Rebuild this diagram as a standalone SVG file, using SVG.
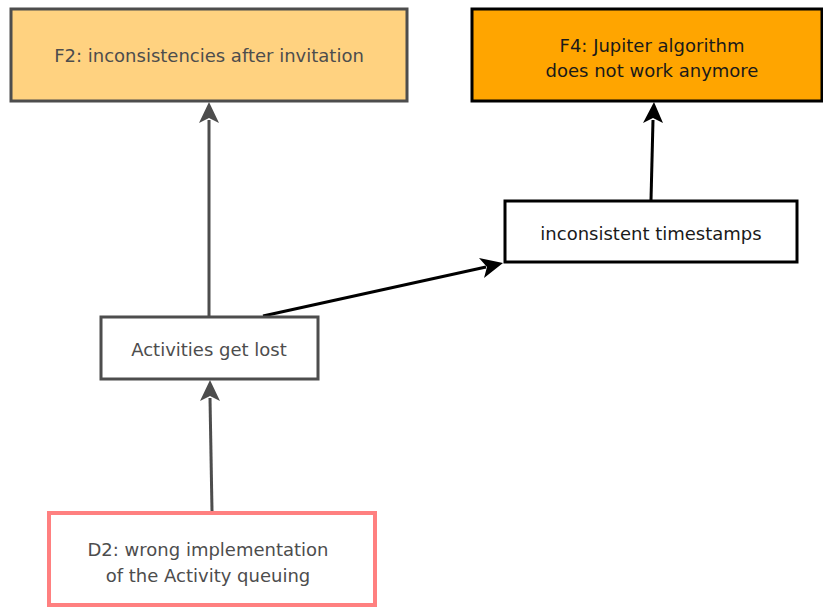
<svg xmlns="http://www.w3.org/2000/svg" width="823" height="608" viewBox="0 0 823 608">
  <style>
    text { font-family: "DejaVu Sans", Verdana, sans-serif; font-size: 18px; text-anchor: middle; dominant-baseline: central; }
    .gray rect { stroke: #4d4d4d; stroke-width: 3; }
    .gray text { fill: #4d4d4d; }
    .black rect { stroke: #000; stroke-width: 3; }
    .black text { fill: #1a1a1a; }
    .edge-gray { stroke: #4d4d4d; stroke-width: 3; fill: none; }
    .edge-black { stroke: #000; stroke-width: 3; fill: none; }
    .head-gray { fill: #4d4d4d; }
    .head-black { fill: #000; }
  </style>

  <g id="connectors">
    <line class="edge-gray" x1="209" y1="316" x2="209" y2="120" />
    <path class="head-gray" d="M209,102 L219,123 L209,118 L199,123 Z" />
    <line class="edge-gray" x1="212" y1="511" x2="210" y2="398" />
    <path class="head-gray" d="M210,380 L220,401 L210,396 L200,401 Z" />
    <line class="edge-black" x1="263" y1="316" x2="486" y2="267" />
    <path class="head-black" d="M503,263 L484,278 L487,267 L479,258 Z" />
    <line class="edge-black" x1="651" y1="200" x2="653" y2="120" />
    <path class="head-black" d="M654,102 L663,123 L653,118 L643,123 Z" />
  </g>

  <g id="f2" class="gray">
    <rect x="11" y="9" width="396" height="92" fill="#ffd280" />
    <text x="209" y="55">F2: inconsistencies after invitation</text>
  </g>

  <g id="f4" class="black">
    <rect x="472" y="9" width="350" height="92" fill="#ffa500" />
    <text x="652" y="45">F4: Jupiter algorithm</text>
    <text x="652" y="70">does not work anymore</text>
  </g>

  <g id="timestamps" class="black">
    <rect x="505" y="201" width="292" height="61" fill="#fff" />
    <text x="651" y="233">inconsistent timestamps</text>
  </g>

  <g id="lost" class="gray">
    <rect x="101" y="317" width="217" height="62" fill="#fff" />
    <text x="209" y="349">Activities get lost</text>
  </g>

  <g id="d2">
    <rect x="49" y="513" width="326" height="92" fill="#fff" stroke="#ff8080" stroke-width="4" />
    <text x="208" y="549" fill="#4d4d4d">D2: wrong implementation</text>
    <text x="208" y="575" fill="#4d4d4d">of the Activity queuing</text>
  </g>
</svg>
